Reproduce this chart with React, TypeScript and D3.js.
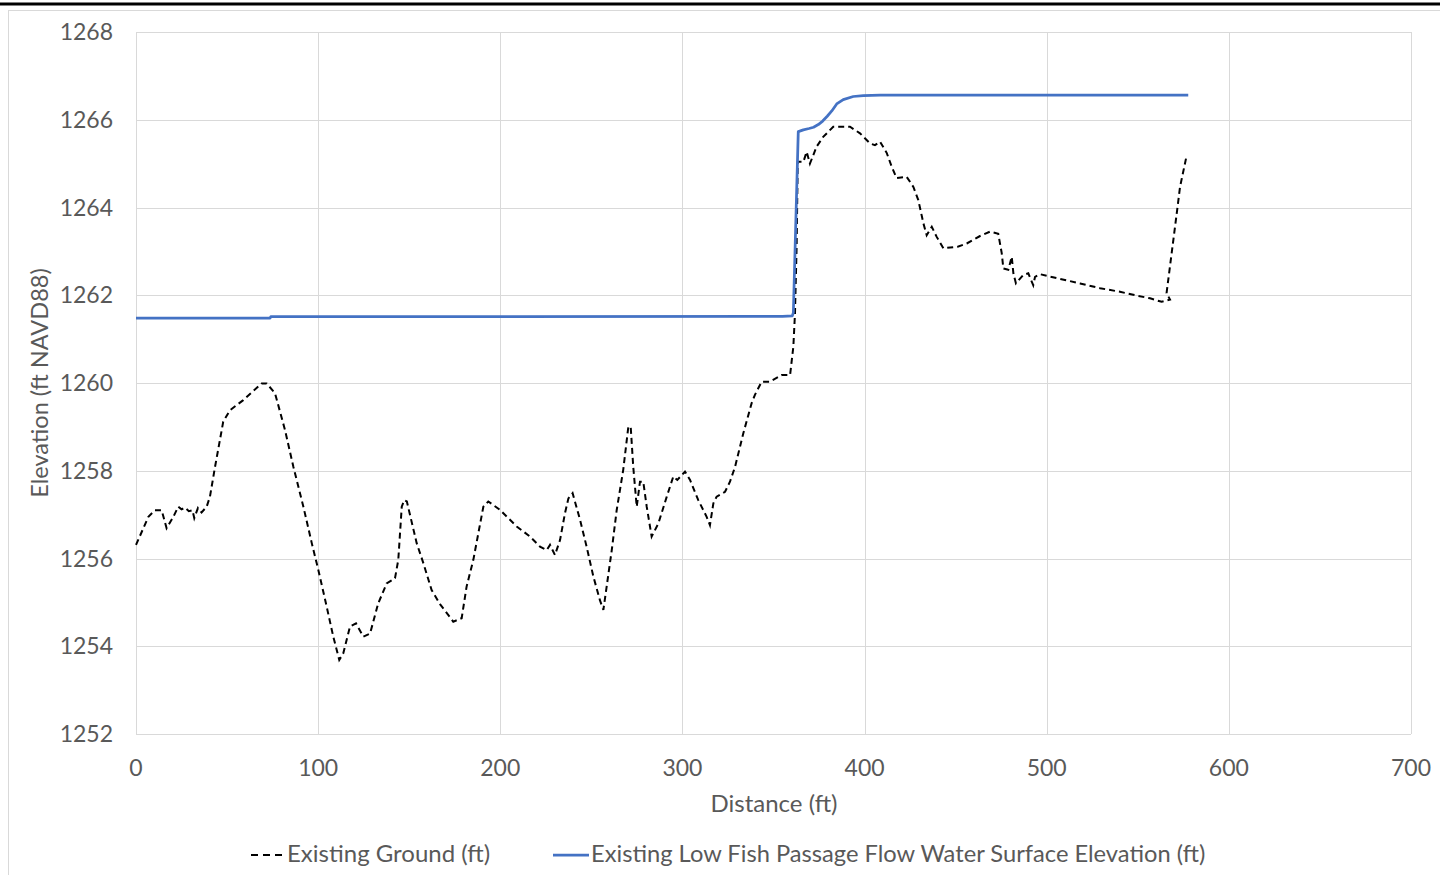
import React, { useEffect, useRef } from "react"
import * as d3 from "d3"

// existing ground profile (distance ft, elevation ft)
const groundX = [
  0, 6.8, 10.4, 14.1, 16.8, 20.5, 23.2, 25, 27, 29, 31, 32, 34, 36, 38.8, 40.6, 43.4, 47.9, 51.6, 58.9,
  69, 71.7, 76.3, 81.8, 86.4, 91.9, 96.5, 100.1, 104.7, 108.3, 111.6, 113.8, 117.5, 120.8, 124.8, 128.5,
  133, 137.6, 142.2, 144, 145.9, 147.3, 148.7, 154.1, 157.8, 162.3, 166.9, 171.5, 174.2, 178.8, 181.5,
  185.2, 190.7, 193.4, 199.8, 209, 216.3, 221.8, 225.5, 227.3, 230, 232.8, 235.5, 237.4, 239.7, 243.8,
  247.4, 251.1, 254.7, 256.6, 258.4, 261.2, 263.9, 267.5, 270.3, 271.6, 273, 274.9, 276.7, 278.5, 280.4,
  283.1, 286.8, 291.4, 295, 297.2, 301.4, 304.2, 308.7, 313.3, 315.1, 317, 318.8, 323.4, 326.1, 328.9,
  333.4, 338, 339.8, 343.5, 348.1, 354.5, 359.1, 360.9, 361.8, 362.7, 363.3, 366.4, 368.2, 370, 373.7,
  377.3, 382.8, 392, 397.5, 403, 405.7, 408.5, 412.2, 414.9, 417.6, 423.1, 426.8, 429.5, 432.3, 434.1,
  436.9, 439.6, 443.3, 451.5, 456.1, 463.4, 468.9, 473.4, 475.3, 476.2, 478.9, 480.8, 481.7, 483.1,
  487.1, 489.9, 492.6, 493.6, 496.3, 505.5, 518.3, 529.3, 540.2, 547.5, 556.7, 563.1, 567.7, 565.8,
  568.6, 571.4, 573.2, 576.9,
]
const groundY = [
  1256.31, 1256.95, 1257.1, 1257.1, 1256.69, 1256.95, 1257.18, 1257.12, 1257.16, 1257.08, 1257.1, 1256.92,
  1257.15, 1257.05, 1257.18, 1257.41, 1258.09, 1259.12, 1259.38, 1259.61, 1259.99, 1259.99, 1259.77,
  1258.93, 1258.09, 1257.18, 1256.35, 1255.74, 1254.9, 1254.22, 1253.69, 1253.84, 1254.45, 1254.52,
  1254.22, 1254.29, 1254.98, 1255.43, 1255.55, 1255.97, 1257.18, 1257.33, 1257.3, 1256.35, 1255.89,
  1255.28, 1254.96, 1254.71, 1254.56, 1254.64, 1255.36, 1255.97, 1257.18, 1257.3, 1257.11, 1256.73,
  1256.5, 1256.27, 1256.19, 1256.31, 1256.08, 1256.42, 1257.03, 1257.37, 1257.49, 1256.88, 1256.27,
  1255.59, 1255.05, 1254.83, 1255.36, 1256.19, 1257.1, 1258.02, 1259.0, 1259.0, 1258.09, 1257.18,
  1257.75, 1257.75, 1257.18, 1256.5, 1256.8, 1257.41, 1257.87, 1257.79, 1257.98, 1257.79, 1257.33,
  1256.95, 1256.76, 1257.26, 1257.41, 1257.52, 1257.75, 1258.09, 1258.85, 1259.54, 1259.73, 1260.03,
  1260.03, 1260.18, 1260.18, 1260.83, 1261.59, 1263.11, 1265.04, 1265.04, 1265.27, 1265.0, 1265.39,
  1265.61, 1265.84, 1265.84, 1265.69, 1265.46, 1265.42, 1265.5, 1265.24, 1264.93, 1264.67, 1264.7,
  1264.47, 1264.17, 1263.64, 1263.37, 1263.56, 1263.33, 1263.07, 1263.11, 1263.18, 1263.35, 1263.45,
  1263.4, 1262.96, 1262.61, 1262.58, 1262.88, 1262.5, 1262.27, 1262.46, 1262.5, 1262.23, 1262.42,
  1262.48, 1262.39, 1262.27, 1262.16, 1262.08, 1262.01, 1261.93, 1261.85, 1261.9, 1262.05, 1262.96,
  1263.87, 1264.47, 1265.2,
]

// low fish passage flow water surface
const wseX = [0, 73.6, 74, 355, 360.3, 360.9, 363.6, 366.4, 369.5, 372, 374.6, 377, 379.5, 382, 384.7, 388.3, 393.8, 399.3, 408.5, 577.7]
const wseY = [
  1261.48, 1261.48, 1261.51, 1261.52, 1261.53, 1261.6, 1265.73, 1265.77, 1265.8, 1265.83, 1265.89, 1265.97,
  1266.08, 1266.2, 1266.36, 1266.46, 1266.53, 1266.55, 1266.56, 1266.56,
]

const xTicks = [0, 100, 200, 300, 400, 500, 600, 700]
const yTicks = [1252, 1254, 1256, 1258, 1260, 1262, 1264, 1266, 1268]

const groundLabel = "Existing Ground (ft)"
const wseLabel = "Existing Low Fish Passage Flow Water Surface Elevation (ft)"

export default function App() {
  const ref = useRef<SVGSVGElement>(null)

  useEffect(() => {
    const width = 1440,
      height = 875
    const font = "Lato, 'Open Sans', sans-serif"
    const textColor = "#595959"
    const gridColor = "#d9d9d9"
    const dash = "6,4"

    const svg = d3.select(ref.current).attr("width", width).attr("height", height)
    svg.selectAll("*").remove()

    const x = d3.scaleLinear().domain([0, 700]).range([136, 1411])
    const y = d3.scaleLinear().domain([1252, 1268]).range([734, 32])

    svg.append("rect").attr("width", width).attr("height", height).attr("fill", "#fff")

    // chart area border + the black rule on top
    svg
      .append("rect")
      .attr("x", 8.5)
      .attr("y", 10.5)
      .attr("width", 1500)
      .attr("height", 900)
      .attr("fill", "none")
      .attr("stroke", gridColor)
    svg.append("line").attr("x1", 0).attr("x2", width).attr("y1", 4).attr("y2", 4).attr("stroke", "#000").attr("stroke-width", 3)

    // gridlines
    const grid = svg.append("g").attr("stroke", gridColor).attr("stroke-width", 1)
    grid
      .selectAll("line.h")
      .data(yTicks)
      .enter()
      .append("line")
      .attr("x1", x(0))
      .attr("x2", x(700))
      .attr("y1", (d) => Math.round(y(d)) + 0.5)
      .attr("y2", (d) => Math.round(y(d)) + 0.5)
    grid
      .selectAll("line.v")
      .data(xTicks)
      .enter()
      .append("line")
      .attr("x1", (d) => Math.round(x(d)) + 0.5)
      .attr("x2", (d) => Math.round(x(d)) + 0.5)
      .attr("y1", y(1268))
      .attr("y2", y(1252))

    // tick labels
    svg
      .append("g")
      .selectAll("text")
      .data(yTicks)
      .enter()
      .append("text")
      .attr("x", 113)
      .attr("y", (d) => y(d) + 8)
      .attr("text-anchor", "end")
      .attr("font-family", font)
      .attr("font-size", 23)
      .attr("fill", textColor)
      .text((d) => d)
    svg
      .append("g")
      .selectAll("text")
      .data(xTicks)
      .enter()
      .append("text")
      .attr("x", (d) => x(d))
      .attr("y", 776)
      .attr("text-anchor", "middle")
      .attr("font-family", font)
      .attr("font-size", 23)
      .attr("fill", textColor)
      .text((d) => d)

    // axis titles
    svg
      .append("text")
      .attr("x", 774)
      .attr("y", 812)
      .attr("text-anchor", "middle")
      .attr("font-family", font)
      .attr("font-size", 24)
      .attr("fill", textColor)
      .text("Distance (ft)")
    svg
      .append("text")
      .attr("transform", "translate(48,383) rotate(-90)")
      .attr("text-anchor", "middle")
      .attr("font-family", font)
      .attr("font-size", 23.5)
      .attr("fill", textColor)
      .text("Elevation (ft NAVD88)")

    // series
    const groundLine = d3
      .line<number>()
      .x((d) => x(d))
      .y((d, i) => y(groundY[i]))
    const wseLine = d3
      .line<number>()
      .x((d) => x(d))
      .y((d, i) => y(wseY[i]))

    svg
      .append("path")
      .attr("d", groundLine(groundX))
      .attr("fill", "none")
      .attr("stroke", "#000")
      .attr("stroke-width", 2)
      .attr("stroke-dasharray", dash)
    svg
      .append("path")
      .attr("d", wseLine(wseX))
      .attr("fill", "none")
      .attr("stroke", "#4472c4")
      .attr("stroke-width", 2.75)
      .attr("stroke-linejoin", "round")

    // legend
    const lg = svg.append("g")
    lg.append("line")
      .attr("x1", 251)
      .attr("x2", 285)
      .attr("y1", 855)
      .attr("y2", 855)
      .attr("stroke", "#000")
      .attr("stroke-width", 2)
      .attr("stroke-dasharray", "7,5")
    lg.append("text")
      .attr("x", 287)
      .attr("y", 862)
      .attr("font-family", font)
      .attr("font-size", 24)
      .attr("fill", textColor)
      .text(groundLabel)
    lg.append("line")
      .attr("x1", 553)
      .attr("x2", 589)
      .attr("y1", 855)
      .attr("y2", 855)
      .attr("stroke", "#4472c4")
      .attr("stroke-width", 2.75)
    lg.append("text")
      .attr("x", 591)
      .attr("y", 862)
      .attr("font-family", font)
      .attr("font-size", 23.7)
      .attr("fill", textColor)
      .text(wseLabel)
  }, [])

  return <svg ref={ref} style={{ position: "absolute", left: 0, top: 0 }} />
}
